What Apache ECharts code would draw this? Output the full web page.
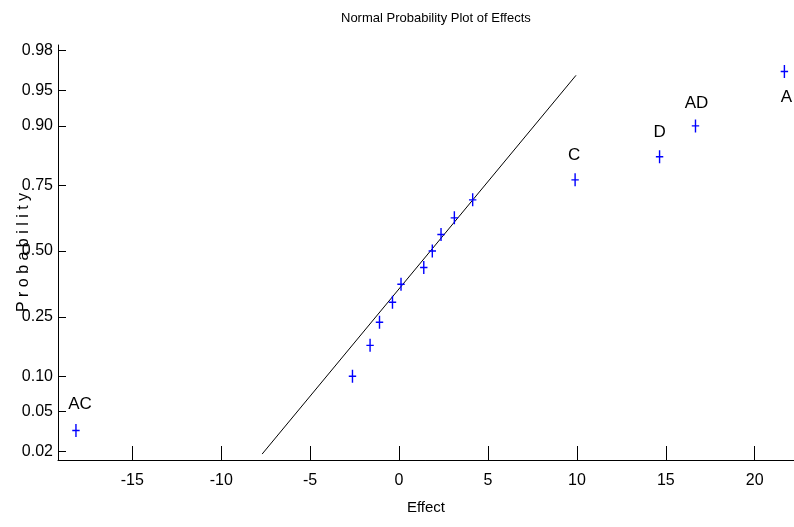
<!DOCTYPE html>
<html>
<head>
<meta charset="utf-8">
<script src="https://cdn.jsdelivr.net/npm/echarts@6/dist/echarts.min.js"></script>
<style>
  html, body { margin: 0; padding: 0; background: #fff; }
  #chart { width: 794px; height: 527px; }
</style>
</head>
<body>
<div id="chart"></div>
<script>
// effects (sorted) and their plotting probabilities
const effects = [-18.17, -2.62, -1.63, -1.10, -0.37, 0.11, 1.39, 1.87, 2.36, 3.11, 4.14, 9.90, 14.65, 16.67, 21.67]
const probs = [0.033, 0.100, 0.167, 0.233, 0.300, 0.367, 0.433, 0.500, 0.567, 0.633, 0.700, 0.767, 0.833, 0.900, 0.967]
const pointNames = ['AC', '', '', '', '', '', '', '', '', '', '', 'C', 'D', 'AD', 'A']

// reference line through the middle effects
const lineEffects = [-7.7, 9.95]
const lineProbs = [0.0188, 0.964]

const probTicks = [0.02, 0.05, 0.10, 0.25, 0.50, 0.75, 0.90, 0.95, 0.98]
const probLabels = ['0.02', '0.05', '0.10', '0.25', '0.50', '0.75', '0.90', '0.95', '0.98']
const effectTicks = [-15, -10, -5, 0, 5, 10, 15, 20]

// inverse normal cdf (Acklam), gives the probability-paper scale
function norminv(p) {
  const a = [-39.69683028665376, 220.9460984245205, -275.9285104469687, 138.3577518672690, -30.66479806614716, 2.506628277459239]
  const b = [-54.47609879822406, 161.5858368580409, -155.6989798598866, 66.80131188771972, -13.28068155288572]
  const c = [-0.007784894002430293, -0.3223964580411365, -2.400758277161838, -2.549732539343734, 4.374664141464968, 2.938163982698783]
  const d = [0.007784695709041462, 0.3224671290700398, 2.445134137142996, 3.754408661907416]
  const pl = 0.02425
  let q, r
  if (p < pl) {
    q = Math.sqrt(-2 * Math.log(p))
    return (((((c[0]*q+c[1])*q+c[2])*q+c[3])*q+c[4])*q+c[5]) / ((((d[0]*q+d[1])*q+d[2])*q+d[3])*q+1)
  }
  if (p > 1 - pl) {
    q = Math.sqrt(-2 * Math.log(1 - p))
    return -(((((c[0]*q+c[1])*q+c[2])*q+c[3])*q+c[4])*q+c[5]) / ((((d[0]*q+d[1])*q+d[2])*q+d[3])*q+1)
  }
  q = p - 0.5
  r = q * q
  return (((((a[0]*r+a[1])*r+a[2])*r+a[3])*r+a[4])*r+a[5])*q / (((((b[0]*r+b[1])*r+b[2])*r+b[3])*r+b[4])*r+1)
}

const font = '"Liberation Sans", Arial, sans-serif'
const zTicks = probTicks.map(norminv)

const labelOffsets = { AC: [4, -26], C: [-1, -25], D: [0, -24], AD: [1, -23], A: [2, 26] }

const points = effects.map((e, i) => {
  const item = { value: [e, norminv(probs[i])] }
  const name = pointNames[i]
  if (name) {
    item.label = {
      show: true,
      formatter: name,
      position: 'inside',
      offset: labelOffsets[name]
    }
  }
  return item
})

const chart = echarts.init(document.getElementById('chart'))
chart.setOption({
  animation: false,
  title: {
    text: 'Normal Probability Plot of Effects',
    left: 336,
    top: 7,
    textStyle: { fontFamily: font, fontSize: 13, fontWeight: 'normal', color: '#000' }
  },
  grid: { left: 58, right: 0, top: 45, bottom: 67, outerBoundsMode: 'none' },
  xAxis: {
    type: 'value',
    min: -19.18,
    max: 22.21,
    name: 'Effect',
    nameLocation: 'middle',
    nameGap: 40,
    nameMoveOverlap: false,
    nameTextStyle: { fontFamily: font, fontSize: 15, color: '#000' },
    axisLine: { show: true, onZero: false, lineStyle: { color: '#000', width: 1 } },
    axisTick: { show: true, inside: true, length: 14, customValues: effectTicks, lineStyle: { color: '#000' } },
    axisLabel: { customValues: effectTicks, margin: 13, fontFamily: font, fontSize: 16, color: '#000' },
    splitLine: { show: false }
  },
  yAxis: {
    type: 'value',
    min: -2.14,
    max: 2.11,
    name: 'P r o b a b i l i t y',
    nameLocation: 'middle',
    nameGap: 26,
    nameRotate: 90,
    nameMoveOverlap: false,
    nameTextStyle: { fontFamily: font, fontSize: 16, color: '#000' },
    axisLine: { show: true, onZero: false, lineStyle: { color: '#000', width: 1 } },
    axisTick: { show: true, inside: true, length: 8, customValues: zTicks, lineStyle: { color: '#000' } },
    axisLabel: {
      customValues: zTicks,
      margin: 5,
      fontFamily: font,
      fontSize: 16,
      color: '#000',
      formatter: function (v) {
        for (let i = 0; i < zTicks.length; i++) {
          if (Math.abs(zTicks[i] - v) < 1e-6) return probLabels[i]
        }
        return ''
      }
    },
    splitLine: { show: false }
  },
  series: [
    {
      type: 'line',
      data: lineEffects.map((e, i) => [e, norminv(lineProbs[i])]),
      symbol: 'none',
      silent: true,
      lineStyle: { color: '#000', width: 1 },
      z: 1
    },
    {
      type: 'scatter',
      data: points,
      symbol: 'path://M3,0h1.4v13h-1.4z M0,5.8h7.4v1.4h-7.4z',
      symbolSize: [7.4, 13],
      itemStyle: { color: '#0000ff', opacity: 1 },
      label: { fontFamily: font, fontSize: 17, color: '#000' },
      z: 2
    }
  ]
})
</script>
</body>
</html>
